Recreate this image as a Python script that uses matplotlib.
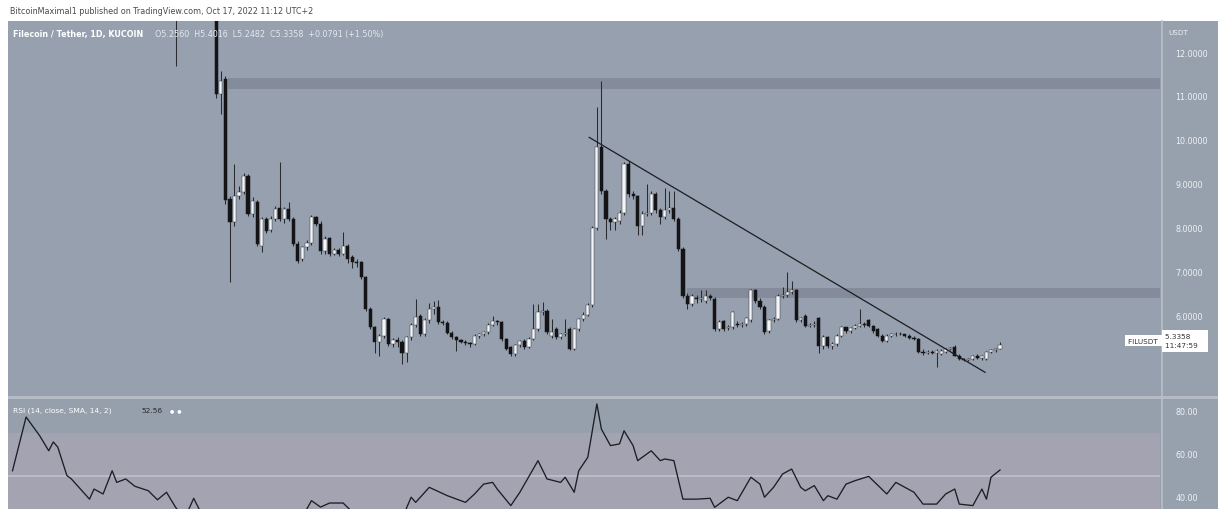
import numpy as np
import matplotlib
matplotlib.use("Agg")
import matplotlib.pyplot as plt
from matplotlib.patches import Rectangle
from matplotlib.ticker import FormatStrFormatter

# ---------------- data ----------------
first_day = 36  # day index of first listed candle (earlier candles lie above the visible range)

opens = [13.20, 12.95, 13.40, 13.90,
         13.70, 13.50, 13.80, 13.60, 13.30, 13.20, 11.05, 11.39, 8.66, 8.13,
         8.73, 8.82, 9.18, 8.32, 8.58, 7.60, 8.20, 7.95, 8.20, 8.45,
         8.20, 8.43, 8.20, 7.64, 7.30, 7.56, 7.67, 8.24, 8.10, 7.48,
         7.77, 7.41, 7.50, 7.41, 7.60, 7.33, 7.22, 7.22, 6.88, 6.16,
         5.74, 5.40, 5.55, 5.93, 5.36, 5.45, 5.40, 5.17, 5.52, 5.80,
         6.00, 5.60, 5.90, 6.15, 6.20, 5.86, 5.85, 5.62, 5.52, 5.45,
         5.42, 5.38, 5.36, 5.55, 5.58, 5.63, 5.80, 5.88, 5.86, 5.48,
         5.29, 5.14, 5.33, 5.44, 5.29, 5.48, 5.70, 6.08, 6.12, 5.55,
         5.70, 5.52, 5.58, 5.70, 5.26, 5.70, 5.93, 6.03, 6.25, 8.00,
         9.85, 8.83, 8.20, 8.13, 8.15, 8.35, 9.45, 8.78, 8.72, 8.05,
         8.32, 8.35, 8.78, 8.40, 8.25, 8.40, 8.45, 8.20, 7.52, 6.46,
         6.28, 6.42, 6.38, 6.35, 6.45, 6.39, 5.70, 5.88, 5.72, 5.74,
         5.82, 5.80, 5.82, 5.90, 6.58, 6.35, 6.20, 5.67, 5.90, 5.93,
         6.46, 6.48, 6.54, 6.58, 5.90, 6.00, 5.78, 5.80, 5.95, 5.31,
         5.52, 5.31, 5.36, 5.55, 5.74, 5.65, 5.72, 5.78, 5.82, 5.90,
         5.78, 5.70, 5.55, 5.44, 5.55, 5.58, 5.60, 5.58, 5.55, 5.50,
         5.48, 5.19, 5.17, 5.19, 5.17, 5.14, 5.19, 5.25, 5.29, 5.10,
         5.02, 5.00, 5.02, 5.10, 5.04, 5.02, 5.18, 5.22, 5.256]

highs = [13.50, 13.60, 14.10, 14.30,
         14.00, 13.90, 14.20, 13.80, 13.60, 13.40, 11.57, 11.45, 8.72, 9.45,
         8.95, 9.25, 9.22, 8.70, 8.63, 8.24, 8.26, 8.28, 8.50, 9.49,
         8.48, 8.58, 8.24, 7.70, 7.60, 7.72, 8.30, 8.28, 8.15, 7.82,
         7.80, 7.55, 7.55, 7.90, 7.64, 7.38, 7.30, 7.25, 6.92, 6.20,
         5.78, 5.60, 5.98, 5.96, 5.50, 5.52, 5.45, 5.55, 5.85, 6.39,
         6.05, 5.95, 6.30, 6.35, 6.36, 5.92, 5.88, 5.65, 5.55, 5.48,
         5.45, 5.40, 5.58, 5.62, 5.66, 5.85, 6.00, 5.92, 5.88, 5.50,
         5.31, 5.36, 5.46, 5.47, 5.52, 6.27, 6.27, 6.31, 6.16, 5.93,
         5.74, 5.62, 5.93, 5.74, 5.72, 5.96, 6.10, 6.30, 8.05, 10.75,
         11.35, 8.88, 8.25, 8.25, 8.40, 9.50, 9.52, 8.85, 8.76, 8.38,
         9.00, 8.85, 8.82, 8.45, 8.90, 8.85, 8.85, 8.25, 7.56, 6.52,
         6.50, 6.48, 6.60, 6.60, 6.50, 6.44, 5.90, 5.92, 5.80, 6.12,
         5.88, 5.86, 5.98, 6.62, 6.62, 6.40, 6.24, 5.94, 5.98, 6.50,
         6.65, 6.99, 6.80, 6.62, 5.98, 6.04, 5.85, 5.88, 5.98, 5.56,
         5.55, 5.40, 5.58, 5.78, 5.76, 5.76, 5.82, 6.16, 5.86, 5.94,
         5.80, 5.72, 5.58, 5.58, 5.62, 5.64, 5.64, 5.60, 5.58, 5.54,
         5.50, 5.24, 5.22, 5.22, 5.24, 5.24, 5.28, 5.30, 5.35, 5.13,
         5.05, 5.04, 5.12, 5.14, 5.12, 5.20, 5.24, 5.28, 5.4016]

lows = [11.68, 12.80, 13.20, 13.50,
        13.20, 13.00, 13.40, 13.00, 12.90, 10.95, 10.60, 8.55, 6.77, 8.05,
        8.65, 8.78, 8.28, 8.26, 7.58, 7.45, 7.88, 7.90, 8.15, 8.15,
        8.12, 8.15, 7.60, 7.20, 7.25, 7.50, 7.62, 8.05, 7.42, 7.40,
        7.36, 7.38, 7.36, 7.38, 7.20, 7.10, 7.12, 6.85, 6.12, 5.70,
        5.15, 5.10, 5.50, 5.32, 5.30, 5.30, 4.90, 4.95, 5.45, 5.75,
        5.55, 5.55, 5.85, 6.05, 5.82, 5.80, 5.58, 5.48, 5.20, 5.38,
        5.34, 5.30, 5.33, 5.50, 5.54, 5.58, 5.78, 5.80, 5.44, 5.22,
        5.08, 5.10, 5.30, 5.26, 5.27, 5.45, 5.66, 6.02, 5.60, 5.50,
        5.48, 5.48, 5.55, 5.22, 5.22, 5.66, 5.88, 6.00, 6.20, 7.95,
        8.78, 7.75, 7.95, 7.95, 8.10, 8.30, 8.70, 8.65, 7.83, 7.83,
        8.28, 8.30, 8.35, 8.10, 8.20, 8.35, 8.15, 7.48, 6.42, 6.15,
        6.22, 6.30, 6.32, 6.30, 6.36, 5.66, 5.66, 5.66, 5.68, 5.70,
        5.76, 5.76, 5.78, 5.86, 6.30, 6.15, 5.60, 5.62, 5.86, 5.90,
        6.40, 6.44, 6.50, 5.86, 5.86, 5.74, 5.74, 5.76, 5.17, 5.26,
        5.28, 5.24, 5.32, 5.52, 5.62, 5.62, 5.70, 5.74, 5.76, 5.74,
        5.62, 5.52, 5.40, 5.42, 5.52, 5.55, 5.56, 5.52, 5.47, 5.45,
        5.15, 5.12, 5.14, 5.14, 4.83, 5.12, 5.17, 5.22, 5.08, 4.99,
        4.97, 4.97, 5.00, 5.02, 5.00, 5.00, 5.15, 5.19, 5.2482]

closes = [12.95, 13.40, 13.90, 13.70,
          13.50, 13.80, 13.60, 13.30, 13.20, 11.05, 11.34, 8.63, 8.13, 8.73,
          8.82, 9.19, 8.32, 8.62, 7.64, 8.20, 7.94, 8.20, 8.43, 8.20,
          8.43, 8.20, 7.64, 7.26, 7.56, 7.66, 8.24, 8.09, 7.48, 7.75,
          7.41, 7.50, 7.41, 7.60, 7.30, 7.22, 7.20, 6.88, 6.16, 5.74,
          5.40, 5.55, 5.93, 5.36, 5.45, 5.40, 5.17, 5.52, 5.80, 5.98,
          5.60, 5.90, 6.15, 6.20, 5.86, 5.85, 5.62, 5.52, 5.45, 5.42,
          5.38, 5.36, 5.55, 5.58, 5.63, 5.80, 5.88, 5.86, 5.48, 5.25,
          5.14, 5.33, 5.44, 5.29, 5.48, 5.70, 6.08, 6.12, 5.63, 5.63,
          5.52, 5.58, 5.62, 5.26, 5.70, 5.93, 6.03, 6.25, 8.00, 9.85,
          8.83, 8.20, 8.13, 8.20, 8.35, 9.45, 8.78, 8.72, 8.05, 8.32,
          8.35, 8.78, 8.40, 8.25, 8.40, 8.45, 8.20, 7.52, 6.46, 6.28,
          6.46, 6.38, 6.40, 6.45, 6.42, 5.70, 5.86, 5.70, 5.75, 6.08,
          5.80, 5.82, 5.95, 6.58, 6.35, 6.20, 5.63, 5.90, 5.93, 6.46,
          6.48, 6.54, 6.58, 5.90, 5.95, 5.78, 5.80, 5.82, 5.31, 5.52,
          5.31, 5.36, 5.55, 5.74, 5.65, 5.72, 5.78, 5.82, 5.80, 5.78,
          5.66, 5.55, 5.44, 5.55, 5.58, 5.60, 5.58, 5.55, 5.50, 5.48,
          5.19, 5.17, 5.19, 5.17, 5.20, 5.21, 5.25, 5.27, 5.10, 5.02,
          5.00, 5.02, 5.10, 5.04, 5.10, 5.18, 5.22, 5.256, 5.3358]

# RSI (14) readings: day index and value
rsi_day = [0, 3, 6, 8, 9, 10, 12, 13, 17, 18, 20, 22, 23, 25, 27, 30, 32, 34, 36, 38,
           40, 42, 45, 48, 51, 54, 57, 60, 63, 66, 68, 70, 73, 75, 78, 81, 84, 86, 88, 89,
           92, 96, 100, 102, 104, 106, 107, 110, 112, 116, 118, 121, 122, 124, 125, 127, 129, 130, 132, 134,
           135, 137, 138, 141, 143, 144, 146, 148, 151, 154, 155, 158, 160, 163, 165, 166, 168, 170, 172, 174,
           175, 177, 179, 180, 182, 184, 186, 189, 193, 195, 197, 199, 201, 204, 206, 208, 209, 212, 214, 215,
           216, 218]
rsi_val = [52.2, 77.2, 68.5, 61.5, 65.6, 63.2, 50.0, 48.4, 39.0, 43.7, 41.4, 52.2, 46.8, 48.4, 45.0, 42.9, 38.7, 42.2, 35.2, 30.0,
           39.4, 31.0, 27.0, 22.0, 26.0, 30.0, 28.0, 32.0, 27.0, 38.3, 35.3, 37.2, 37.2, 33.0, 25.0, 20.0, 22.0, 30.0, 39.9, 37.5,
           44.5, 40.6, 37.5, 41.4, 46.0, 46.8, 43.7, 36.0, 42.2, 56.9, 48.4, 46.8, 49.2, 42.2, 52.2, 58.5, 83.3, 71.6, 63.9, 64.7,
           70.8, 63.9, 56.9, 61.5, 56.9, 57.7, 56.9, 39.0, 39.0, 39.4, 35.2, 39.9, 38.3, 49.2, 46.0, 39.9, 44.5, 50.7, 53.0, 44.5,
           42.9, 45.3, 38.3, 40.6, 39.0, 46.0, 47.6, 49.6, 41.4, 46.8, 44.5, 42.2, 36.7, 36.7, 41.4, 43.7, 36.7, 36.0, 43.7, 39.0,
           49.2, 52.56]

# drawn levels
resistance_bands = [(11.16, 11.40, 47.5), (6.40, 6.64, 148.8)]   # (low, high, start day)
trend_day = [127.3, 214.7]
trend_price = [10.06, 4.72]

price_ticks = [6, 7, 8, 9, 10, 11, 12]
rsi_ticks = [40, 60, 80]
last_price = closes[-1]

# ---------------- layout helpers (pixels) ----------------
W, H = 1228, 510
fig = plt.figure(figsize=(W / 100, H / 100), dpi=100, facecolor="white")

def fx(px):
    return px / W

def fy(py):
    return 1 - py / H

BG = "#96a0ae"
SCALE_BG = "#97a1ae"
RSI_BG = "#96a0ad"
RSI_BAND = "#a4a3b1"
TXT_LIGHT = "#eef1f5"

x0_px, dx_px = 12.5, 4.53          # pixel position of day 0 and pixel spacing per day
pane_l, pane_r = 8, 1160
main_t, main_b = 22, 397
rsi_t, rsi_b = 400, 510

xlim = ((pane_l - x0_px) / dx_px, (pane_r - x0_px) / dx_px)

# right price-scale background and pane separators (behind the axes)
fig.patches.append(Rectangle((fx(pane_r), 0), fx(1218) - fx(pane_r), fy(main_t),
                             transform=fig.transFigure, facecolor=SCALE_BG,
                             edgecolor="none", zorder=-5))
fig.patches.append(Rectangle((fx(pane_l), fy(rsi_t)), fx(1218) - fx(pane_l), fy(main_b) - fy(rsi_t),
                             transform=fig.transFigure, facecolor="#b4bbc5",
                             edgecolor="none", zorder=-5))
fig.lines.append(plt.Line2D([fx(pane_r + 1.5)] * 2, [0, fy(main_t)], transform=fig.transFigure,
                            color="#b9c0ca", lw=1.2, zorder=-4))

# ---------------- main price pane ----------------
ax = fig.add_axes([fx(pane_l), fy(main_b), fx(pane_r) - fx(pane_l), fy(main_t) - fy(main_b)])
ax.set_facecolor(BG)
ax.set_xlim(*xlim)
ax.set_ylim(12 - (main_b - 53) / 44, 12 + (53 - main_t) / 44)

days = np.arange(first_day, first_day + len(closes))
o = np.array(opens); h = np.array(highs); l = np.array(lows); c = np.array(closes)
up = c >= o

for lo_, hi_, start in resistance_bands:
    ax.add_patch(Rectangle((start, lo_), 400, hi_ - lo_, facecolor="#7f8494",
                           edgecolor="none", alpha=0.75, zorder=1))

ax.vlines(days, l, h, colors="#2a2b2e", linewidth=0.75, zorder=2)
body_h = np.maximum(np.abs(c - o), 0.012)
body_b = np.minimum(o, c)
ax.bar(days[up], body_h[up], bottom=body_b[up], width=0.7, color="#f3f5f8",
       edgecolor="#3a3c40", linewidth=0.35, zorder=3)
ax.bar(days[~up], body_h[~up], bottom=body_b[~up], width=0.7, color="#141416",
       edgecolor="#141416", linewidth=0.35, zorder=3)

ax.plot(trend_day, trend_price, color="#1c1d20", lw=0.9, zorder=4)

ax.yaxis.tick_right()
ax.set_yticks(price_ticks)
ax.yaxis.set_major_formatter(FormatStrFormatter("%.4f"))
ax.tick_params(axis="y", length=0, pad=11, labelsize=5.8, labelcolor=TXT_LIGHT)
ax.set_xticks([])
for s in ax.spines.values():
    s.set_visible(False)

# last-price labels
ax.text(1.0, last_price + 0.1, "FILUSDT ", transform=ax.get_yaxis_transform(), ha="right", va="center",
        fontsize=5.2, color="#333", bbox=dict(boxstyle="square,pad=0.35", fc="white", ec="none"),
        zorder=6)
ax.text(1.0 + 5 / (pane_r - pane_l), last_price + 0.1, "5.3358     \n11:47:59   ",
        transform=ax.get_yaxis_transform(), ha="left", va="center", fontsize=5.2, color="#333",
        linespacing=1.6, bbox=dict(boxstyle="square,pad=0.45", fc="white", ec="none"),
        clip_on=False, zorder=6)

# ---------------- RSI pane ----------------
ar = fig.add_axes([fx(pane_l), fy(rsi_b), fx(pane_r) - fx(pane_l), fy(rsi_t) - fy(rsi_b)])
ar.set_facecolor(RSI_BG)
ar.set_xlim(*xlim)
ar.set_ylim(80 - (rsi_b - 412) / 2.15, 80 + (412 - rsi_t) / 2.15)
ar.axhspan(30, 70, color=RSI_BAND, zorder=0)
ar.axhline(50, color="#bcbfc9", lw=1.3, zorder=1)
ar.plot(rsi_day, rsi_val, color="#1d1e22", lw=0.95, zorder=3)
ar.yaxis.tick_right()
ar.set_yticks(rsi_ticks)
ar.yaxis.set_major_formatter(FormatStrFormatter("%.2f"))
ar.tick_params(axis="y", length=0, pad=11, labelsize=5.8, labelcolor=TXT_LIGHT)
ar.set_xticks([])
for s in ar.spines.values():
    s.set_visible(False)

# ---------------- texts ----------------
fig.text(fx(10), fy(12), "BitcoinMaximal1 published on TradingView.com, Oct 17, 2022 11:12 UTC+2",
         fontsize=5.8, color="#4a4a4a", va="center", ha="left")
fig.text(fx(1168), fy(33), "USDT", fontsize=5.2, color=TXT_LIGHT, va="center", ha="left")
fig.text(fx(13), fy(35), "Filecoin / Tether, 1D, KUCOIN", fontsize=5.8, color="white",
         va="center", ha="left", fontweight="bold")
fig.text(fx(155), fy(35), "O5.2560  H5.4016  L5.2482  C5.3358  +0.0791 (+1.50%)",
         fontsize=5.8, color="#e4e8ee", va="center", ha="left")
fig.text(fx(13), fy(411), "RSI (14, close, SMA, 14, 2)", fontsize=5.4, color="white",
         va="center", ha="left")
fig.text(fx(141), fy(411), "52.56", fontsize=5.4, color="#2a2a2a", va="center", ha="left")
fig.text(fx(170), fy(411), "\u25cf  \u25cf", fontsize=3.5, color="white", va="center", ha="left")

fig.savefig("out.png", dpi=100, facecolor="white")
